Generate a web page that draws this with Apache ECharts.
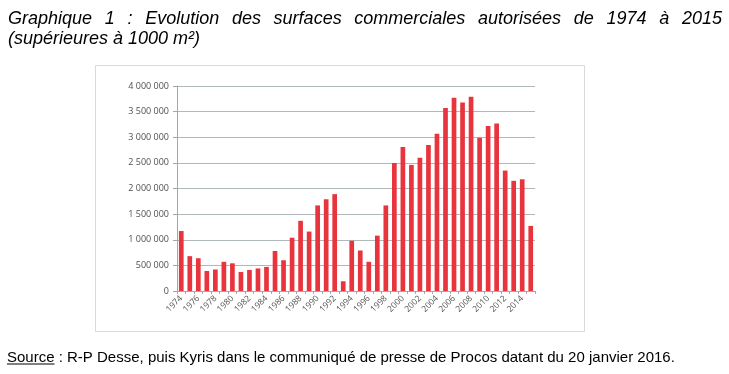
<!DOCTYPE html>
<html>
<head>
<meta charset="utf-8">
<script src="https://cdn.jsdelivr.net/npm/echarts@6/dist/echarts.min.js"></script>
<style>
html,body{margin:0;padding:0;background:#fff;}
#chart{width:729px;height:374px;}
</style>
</head>
<body>
<div id="chart"></div>
<script>
const years = ['1974','1975','1976','1977','1978','1979','1980','1981','1982','1983','1984','1985','1986','1987','1988','1989','1990','1991','1992','1993','1994','1995','1996','1997','1998','1999','2000','2001','2002','2003','2004','2005','2006','2007','2008','2009','2010','2011','2012','2013','2014','2015'];
const surfaces = [1170000,680000,640000,390000,420000,570000,540000,370000,410000,440000,470000,780000,600000,1040000,1370000,1160000,1670000,1790000,1890000,190000,980000,790000,570000,1080000,1670000,2500000,2810000,2460000,2600000,2850000,3070000,3570000,3770000,3680000,3790000,2990000,3220000,3270000,2350000,2150000,2180000,1270000];
const yTicks = [0,500000,1000000,1500000,2000000,2500000,3000000,3500000,4000000];
const titleLine1 = 'Graphique 1 : Evolution des surfaces commerciales autorisées de 1974 à 2015';
const titleLine2 = '(supérieures à 1000 m²)';
const sourceLabel = 'Source';
const sourceRest = ' : R-P Desse, puis Kyris dans le communiqué de presse de Procos datant du 20 janvier 2016.';

const titleFont = 'italic 18px "Liberation Sans"';
const srcFont = '15px "Liberation Sans"';
const ctx = document.createElement('canvas').getContext('2d');

const graphics = [];
(function(){
  const words = titleLine1.split(' ');
  ctx.font = titleFont;
  const x0 = 8, x1 = 722;
  const widths = words.map(w => ctx.measureText(w).width);
  const total = widths.reduce((a,b)=>a+b,0);
  const gap = (x1 - x0 - total) / (words.length - 1);
  let x = x0;
  words.forEach((w,i) => {
    graphics.push({type:'text', x:x, y:10, style:{text:w, font:titleFont, fill:'#000', textVerticalAlign:'top'}});
    x += widths[i] + gap;
  });
  graphics.push({type:'text', x:x0, y:30, style:{text:titleLine2, font:titleFont, fill:'#000', textVerticalAlign:'top'}});
  ctx.font = srcFont;
  const sw = ctx.measureText(sourceLabel).width;
  graphics.push({type:'text', x:7, y:350, style:{text:sourceLabel, font:srcFont, fill:'#000', textVerticalAlign:'top'}});
  graphics.push({type:'line', shape:{x1:7, y1:364, x2:7+sw, y2:364}, style:{stroke:'#000', lineWidth:1}});
  graphics.push({type:'text', x:7+sw, y:350, style:{text:sourceRest, font:srcFont, fill:'#000', textVerticalAlign:'top'}});
  graphics.push({type:'rect', shape:{x:95.5, y:65.5, width:489, height:266}, style:{fill:'none', stroke:'#d9d9d9', lineWidth:1}, z:-1});
})();

const chart = echarts.init(document.getElementById('chart'), null, {renderer:'canvas'});
chart.setOption({
  animation:false,
  backgroundColor:'#fff',
  graphic: graphics,
  grid:{left:177, right:194, top:86, bottom:83, containLabel:false},
  xAxis:{
    type:'category', data:years,
    axisLine:{lineStyle:{color:'#a6a6a6', width:1}},
    axisTick:{show:true, alignWithLabel:false, interval:0, length:3, lineStyle:{color:'#a6a6a6'}},
    axisLabel:{interval:1, rotate:45, fontSize:8.5, fontFamily:'Open Sans', color:'#505050', margin:6}
  },
  yAxis:{
    type:'value', min:0, max:4000000, interval:500000,
    axisLine:{show:true, lineStyle:{color:'#a6a6a6'}},
    axisTick:{show:true, length:4, lineStyle:{color:'#a6a6a6'}},
    splitLine:{lineStyle:{color:'#b0b8bc', width:1}},
    axisLabel:{fontSize:9, fontFamily:'Open Sans', color:'#505050', margin:8,
      formatter: v => String(v).replace(/\B(?=(\d{3})+(?!\d))/g, ' ')}
  },
  series:[{
    type:'bar', data:surfaces, barCategoryGap:'45%',
    itemStyle:{color:'#e8343d'}
  }]
});
</script>
</body>
</html>
